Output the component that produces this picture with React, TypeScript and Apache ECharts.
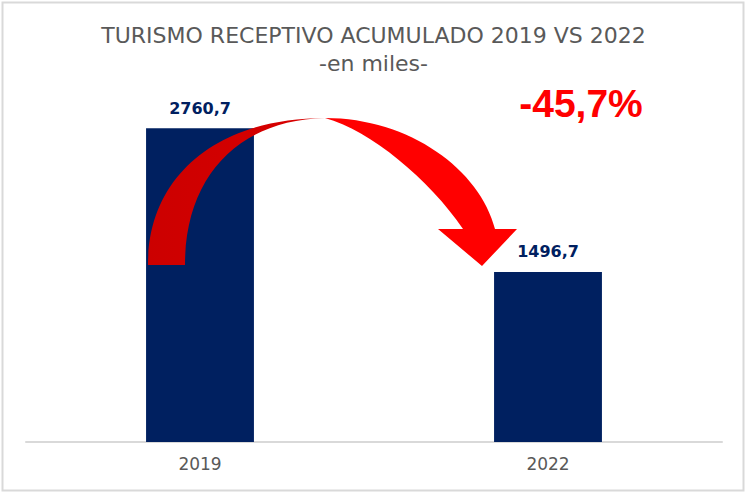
import React, { useEffect, useRef } from "react";
import * as echarts from "echarts";

const categories = ["2019", "2022"];
const values = [2760.7, 1496.7];
const valueLabels = ["2760,7", "1496,7"];
const changeLabel = "-45,7%";
const titleText = "TURISMO RECEPTIVO ACUMULADO 2019 VS 2022";
const subtitleText = "-en miles-";

const ARROW_D =
  "M148,265 C148,172 222,118 325,118 C410,118 480,170 495,229 L517,229 L482,266 L438,229 L463,229 C430,180 370,130 325,118 C240,120 185,175 185,265 Z";

let registered = false;
function ensureShape() {
  if (registered) return;
  echarts.graphic.registerShape("logo", echarts.graphic.extendPath(ARROW_D, {}) as any);
  registered = true;
}

export default function App() {
  const ref = useRef<HTMLDivElement>(null);
  useEffect(() => {
    ensureShape();
    const chart = echarts.init(ref.current!, undefined, { renderer: "svg" });
    const font = "'Century Gothic', 'DejaVu Sans', sans-serif";
    chart.setOption({
      animation: false,
      backgroundColor: "#ffffff",
      title: [
        {
          text: titleText,
          left: "center",
          top: 19,
          textStyle: { fontFamily: font, fontSize: 22, fontWeight: "normal", color: "#595959" },
        },
        {
          text: subtitleText,
          left: "center",
          top: 47,
          textStyle: { fontFamily: font, fontSize: 22, fontWeight: "normal", color: "#595959" },
        },
      ],
      grid: { left: 26, right: 25, top: 101, bottom: 52 },
      xAxis: {
        type: "category",
        data: categories,
        axisLine: { lineStyle: { color: "#d9d9d9", width: 2 } },
        axisTick: { show: false },
        axisLabel: { fontFamily: font, fontSize: 17, color: "#595959", margin: 13 },
      },
      yAxis: {
        type: "value",
        min: 0,
        max: 3000,
        show: false,
        splitLine: { show: false },
      },
      series: [
        {
          type: "bar",
          data: values,
          barWidth: "31%",
          itemStyle: { color: "#002060" },
          label: {
            show: true,
            position: "top",
            distance: 12,
            fontFamily: font,
            fontSize: 16,
            fontWeight: "bold",
            color: "#002060",
            formatter: (p: any) => valueLabels[p.dataIndex],
          },
        },
      ],
      graphic: [
        {
          type: "rect",
          shape: { x: 2.5, y: 2.5, width: 741, height: 488 },
          style: { fill: "none", stroke: "#d9d9d9", lineWidth: 2 },
          silent: true,
        },
        {
          type: "logo",
          x: 0,
          y: 0,
          style: {
            fill: new echarts.graphic.LinearGradient(0, 0, 1, 0, [
              { offset: 0, color: "#cc0000" },
              { offset: 0.46, color: "#d80000" },
              { offset: 0.5, color: "#ff0000" },
              { offset: 1, color: "#ff0000" },
            ]),
          },
          z: 10,
        },
        {
          type: "text",
          x: 581,
          y: 103,
          style: {
            text: changeLabel,
            fontFamily: "'Liberation Sans', Arial, sans-serif",
            fontSize: 39,
            fontWeight: "bold",
            fill: "#ff0000",
            align: "center",
            verticalAlign: "middle",
          },
          z: 10,
        },
      ],
    });
    return () => chart.dispose();
  }, []);
  return (
    <div
      ref={ref}
      style={{ position: "fixed", left: 0, top: 0, width: 747, height: 494 }}
    />
  );
}
